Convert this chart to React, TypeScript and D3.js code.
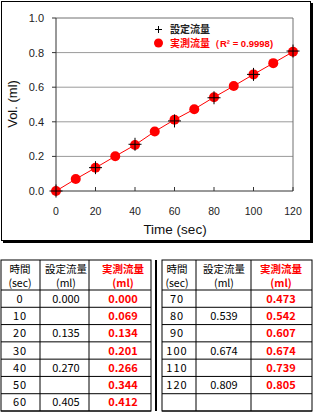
import React from "react";
import * as d3 from "d3";

const times = [0, 10, 20, 30, 40, 50, 60, 70, 80, 90, 100, 110, 120];
const measured = [0.0, 0.069, 0.134, 0.201, 0.266, 0.344, 0.412, 0.473, 0.542, 0.607, 0.674, 0.739, 0.805];
const measuredLabels = ["0.000", "0.069", "0.134", "0.201", "0.266", "0.344", "0.412", "0.473", "0.542", "0.607", "0.674", "0.739", "0.805"];
const setTimes = [0, 20, 40, 60, 80, 100, 120];
const setValues = [0.0, 0.135, 0.27, 0.405, 0.539, 0.674, 0.809];
const setLabels = ["0.000", "0.135", "0.270", "0.405", "0.539", "0.674", "0.809"];
const xTicks = [0, 20, 40, 60, 80, 100, 120];
const yTicks = [0, 0.2, 0.4, 0.6, 0.8, 1.0];
const seriesNames = ["設定流量", "実測流量"];
const r2Label = "（R² = 0.9998)";
const headerTop = ["時間", "設定流量", "実測流量"];
const headerBottom = ["(sec)", "(ml)", "(ml)"];

export default function App() {
  const W = 320, H = 412;
  const x = d3.scaleLinear().domain([0, 120]).range([56, 293]);
  const y = d3.scaleLinear().domain([0, 1]).range([191, 18]);
  const line = d3.line<number>().x((_, i) => x(times[i])).y((d) => y(d));
  const sans = "'Liberation Sans', Arial, sans-serif";
  const jp = "'Noto Sans CJK JP', sans-serif";

  const tTop = 260, hdrBottom = 290, rowH = (411 - 290) / 7;
  const leftCols = [1, 40, 89, 151];
  const rightCols = [162, 196, 251, 312];
  const leftCenters = [20, 66, 123];
  const rightCenters = [177, 224, 281];
  const setMap = new Map(setTimes.map((t, i) => [t, setLabels[i]]));
  const leftRows = times.slice(0, 7);
  const rightRows: (number | null)[] = [...times.slice(7), null];

  const renderTable = (cols: number[], centers: number[], rows: (number | null)[], key: string) => (
    <g key={key}>
      <rect x={cols[0]} y={tTop} width={cols[3] - cols[0]} height={411 - tTop} fill="#fff" stroke="#000" strokeWidth={1} />
      {cols.slice(1, 3).map((c, i) => (
        <line key={i} x1={c} x2={c} y1={tTop} y2={411} stroke="#000" />
      ))}
      <line x1={cols[0]} x2={cols[3]} y1={hdrBottom} y2={hdrBottom} stroke="#000" />
      {rows.map((_, i) => (
        <line key={"r" + i} x1={cols[0]} x2={cols[3]} y1={hdrBottom + rowH * (i + 1)} y2={hdrBottom + rowH * (i + 1)} stroke="#000" />
      ))}
      {headerTop.map((h, i) => (
        <text key={"h" + i} x={centers[i]} y={273} textAnchor="middle" fontFamily={jp} fontSize={10.5}
          fill={i === 2 ? "#ff0000" : "#000"} fontWeight={i === 2 ? "bold" : "normal"}>{h}</text>
      ))}
      {headerBottom.map((h, i) => (
        <text key={"hb" + i} x={centers[i]} y={286.5} textAnchor="middle" fontFamily={jp} fontSize={10.5}
          fill={i === 2 ? "#ff0000" : "#000"} fontWeight={i === 2 ? "bold" : "normal"}>{h}</text>
      ))}
      {rows.map((t, i) => {
        const cy = hdrBottom + rowH * (i + 0.5) + 4;
        if (t === null) return null;
        const idx = times.indexOf(t);
        return (
          <g key={"d" + i}>
            <text x={centers[0]} y={cy} textAnchor="middle" fontFamily={jp} fontSize={11} letterSpacing={1}>{t}</text>
            {setMap.has(t) && (
              <text x={centers[1]} y={cy} textAnchor="middle" fontFamily={jp} fontSize={11}>{setMap.get(t)}</text>
            )}
            <text x={centers[2]} y={cy} textAnchor="middle" fontFamily={jp} fontSize={11} fontWeight="bold" fill="#ff0000">{measuredLabels[idx]}</text>
          </g>
        );
      })}
    </g>
  );

  return (
    <svg width={W} height={H} style={{ position: "absolute", left: 0, top: 0, background: "#fff" }}>
      <rect x={0} y={0} width={W} height={H} fill="#fff" />
      <rect x={3} y={3} width={310} height={240} fill="#000" />
      <rect x={1.5} y={1.5} width={309} height={239} fill="#fff" stroke="#000" strokeWidth={1} />
      {yTicks.slice(1, 5).map((t) => (
        <line key={t} x1={x(0)} x2={x(120)} y1={y(t)} y2={y(t)} stroke="#9a9a9a" strokeWidth={1} />
      ))}
      <line x1={x(0)} x2={x(120)} y1={y(1)} y2={y(1)} stroke="#707070" />
      <line x1={x(120)} x2={x(120)} y1={y(1)} y2={y(0)} stroke="#707070" />
      <line x1={x(0)} x2={x(0)} y1={y(1)} y2={y(0)} stroke="#333" />
      <line x1={x(0)} x2={x(120)} y1={y(0)} y2={y(0)} stroke="#333" />
      {yTicks.map((t) => (
        <g key={"yt" + t}>
          <line x1={x(0) - 4} x2={x(0)} y1={y(t)} y2={y(t)} stroke="#333" />
          <text x={44} y={y(t) + 4} textAnchor="end" fontFamily={sans} fontSize={11} fill="#222">{t.toFixed(1)}</text>
        </g>
      ))}
      {xTicks.map((t) => (
        <g key={"xt" + t}>
          <line x1={x(t)} x2={x(t)} y1={y(0)} y2={y(0) - 4} stroke="#333" />
          <text x={x(t)} y={215} textAnchor="middle" fontFamily={sans} fontSize={10.5} fill="#222">{t}</text>
        </g>
      ))}
      <text x={175} y={234} textAnchor="middle" fontFamily={sans} fontSize={13.5} fill="#111">Time (sec)</text>
      <text transform={`translate(17,104) rotate(-90)`} textAnchor="middle" fontFamily={sans} fontSize={13} fill="#111">Vol. (ml)</text>
      <path d={line(measured) || ""} fill="none" stroke="#ff0000" strokeWidth={1} />
      {measured.map((v, i) => (
        <circle key={"c" + i} cx={x(times[i])} cy={y(v)} r={5} fill="#ff0000" />
      ))}
      {setValues.map((v, i) => (
        <g key={"p" + i} stroke="#000" strokeWidth={1}>
          <line x1={x(setTimes[i]) - 6.5} x2={x(setTimes[i]) + 6.5} y1={y(v)} y2={y(v)} />
          <line x1={x(setTimes[i])} x2={x(setTimes[i])} y1={y(v) - 6.5} y2={y(v) + 6.5} />
        </g>
      ))}
      <g stroke="#000" strokeWidth={1}>
        <line x1={155} x2={162} y1={29.5} y2={29.5} />
        <line x1={158.5} x2={158.5} y1={26} y2={33} />
      </g>
      <text x={170} y={33} fontFamily={jp} fontSize={10} fontWeight="bold" fill="#222">{seriesNames[0]}</text>
      <circle cx={158.5} cy={43} r={4.5} fill="#ff0000" />
      <text x={170} y={47} fontFamily={jp} fontSize={10} fontWeight="bold" fill="#ff0000">
        {seriesNames[1]}
        <tspan fontFamily={sans} fontSize={9.5} fontWeight="bold">{r2Label}</tspan>
      </text>
      {renderTable(leftCols, leftCenters, leftRows, "L")}
      {renderTable(rightCols, rightCenters, rightRows, "R")}
      <line x1={156} x2={156} y1={tTop} y2={411} stroke="#000" strokeWidth={2} />
    </svg>
  );
}
